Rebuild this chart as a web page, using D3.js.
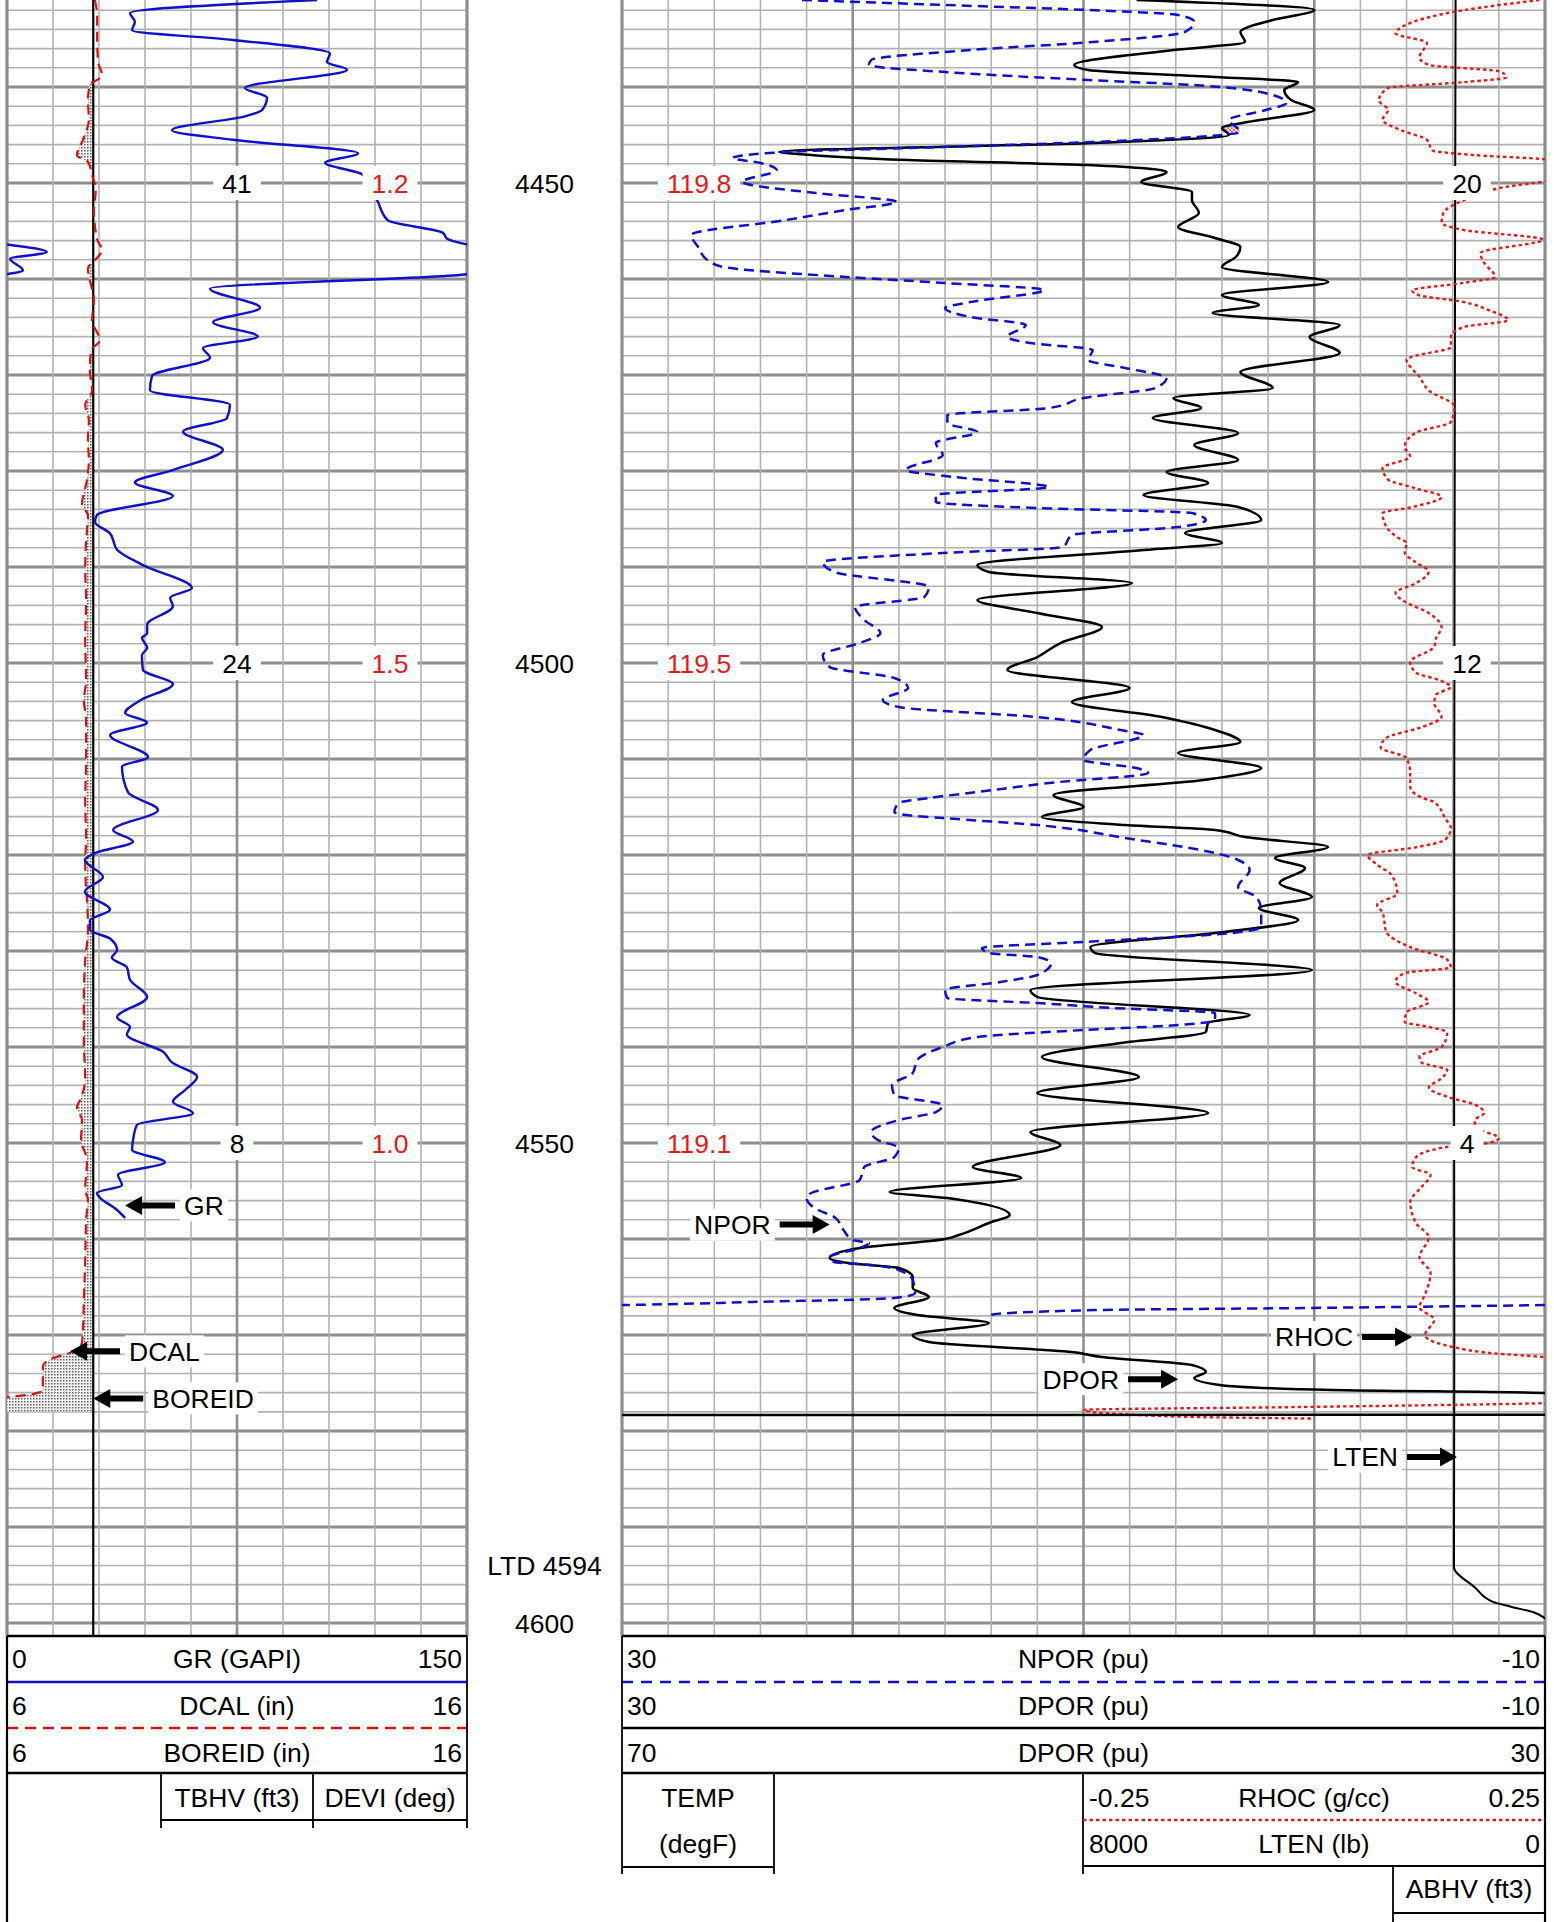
<!DOCTYPE html>
<html>
<head>
<meta charset="utf-8">
<title>Well log</title>
<script src="https://cdn.jsdelivr.net/npm/d3@7/dist/d3.min.js"></script>
<style>
html,body{margin:0;padding:0;background:#fff;}
svg{display:block;}
text{font-family:"Liberation Sans",Arial,Helvetica,sans-serif;}
</style>
</head>
<body>
<svg id="chart" width="1554" height="1922"></svg>
<script>
// ================= DATA =================
const depthRange = [4430.94, 4601.35];
const gridStep = 2;
const depthLabels = [4450, 4500, 4550, 4600];
const ltdDepth = 4594;
const annoDepths = [4450, 4500, 4550];
const tbhvLabels = ["41", "24", "8"];
const deviLabels = ["1.2", "1.5", "1.0"];
const tempLabels = ["119.8", "119.5", "119.1"];
const abhvLabels = ["20", "12", "4"];
const boreid = 7.875;

// [depth ft, GR gAPI]
const grData = [
[4430.94,101.1],[4432.3,40.1],[4433.2,41.7],[4434.1,40.8],[4435.1,73.7],[4436.5,105.3],[4437.4,104.3],[4438.2,110.9],[4440.1,77.6],[4441.1,84.8],[4442.4,83.2],[4443.0,78.3],[4444.5,53.8],[4445.5,73.7],[4446.9,114.5],[4447.9,103.7],[4449.1,115.8],[4451.8,120.7],[4453.9,124.2],[4455.2,142.2],[4455.8,143.5],[4456.4,150.0],[4457.2,163.0],[4457.9,151.0],[4459.1,155.2],[4459.5,150.0],[4461.0,66.2],[4463.0,82.5],[4464.5,67.2],[4466.0,81.8],[4467.2,63.9],[4468.2,66.2],[4470.1,47.3],[4471.6,46.6],[4473.1,72.7],[4474.5,71.7],[4475.9,57.4],[4477.8,70.4],[4479.9,54.1],[4481.2,41.7],[4482.6,54.1],[4484.6,29.3],[4485.3,28.7],[4486.5,33.6],[4488.2,35.9],[4489.8,44.3],[4492.2,60.3],[4493.2,53.2],[4494.1,54.1],[4496.0,45.7],[4496.9,45.7],[4497.4,44.0],[4498.4,45.7],[4499.2,44.0],[4500.7,44.3],[4502.2,54.1],[4503.9,43.4],[4505.2,38.5],[4506.2,45.7],[4507.5,33.6],[4509.8,46.0],[4510.8,37.5],[4513.5,39.5],[4515.3,49.2],[4517.4,34.6],[4518.6,41.1],[4519.8,28.7],[4520.5,25.4],[4522.3,31.3],[4523.8,25.4],[4525.7,33.6],[4526.8,27.1],[4527.8,27.1],[4528.7,33.6],[4529.9,35.9],[4530.7,34.2],[4531.7,39.1],[4533.0,40.1],[4534.8,45.7],[4536.9,35.9],[4537.9,40.1],[4538.7,39.1],[4540.5,50.9],[4541.6,53.8],[4543.1,62.0],[4544.5,58.0],[4545.7,54.1],[4546.9,60.7],[4548.1,42.4],[4549.7,41.1],[4550.7,40.8],[4552.0,51.5],[4553.3,36.2],[4554.4,37.5],[4555.2,29.3],[4555.7,30.3],[4556.8,35.2],[4557.8,38.5]
];

// [depth ft, DCAL in]
const dcalData = [
[4430.94,7.91],[4432.5,7.96],[4435.1,7.96],[4437.4,7.98],[4438.8,8.07],[4439.8,7.80],[4441.4,7.76],[4443.4,7.78],[4445.5,7.65],[4447.1,7.52],[4447.8,7.76],[4449.2,7.85],[4450.7,7.93],[4452.8,7.89],[4455.9,7.96],[4457.0,8.07],[4457.8,7.96],[4458.9,7.76],[4460.1,7.80],[4462.2,7.89],[4464.3,7.85],[4466.4,8.02],[4467.4,7.83],[4469.5,7.80],[4471.6,7.85],[4473.1,7.70],[4474.7,7.78],[4476.8,7.76],[4478.9,7.78],[4480.9,7.74],[4483.5,7.63],[4484.6,7.76],[4487.2,7.72],[4490.3,7.70],[4493.4,7.72],[4497.6,7.70],[4501.8,7.72],[4503.9,7.67],[4505.9,7.72],[4510.1,7.72],[4514.3,7.70],[4518.4,7.72],[4520.5,7.70],[4523.6,7.72],[4524.7,7.74],[4527.8,7.76],[4530.9,7.70],[4535.1,7.67],[4539.3,7.67],[4543.4,7.70],[4545.5,7.59],[4546.3,7.52],[4547.6,7.63],[4549.7,7.61],[4551.8,7.74],[4554.9,7.70],[4555.9,7.76],[4558.0,7.72],[4562.2,7.70],[4566.4,7.67],[4569.5,7.65],[4570.8,7.63],[4571.8,7.41],[4572.4,7.0],[4573.3,6.78],[4575.7,6.78],[4576.2,6.5],[4576.5,6.0],[4578.0,5.6]
];

// [depth ft, NPOR pu]
const nporData = [
[4430.94,22.2],[4431.46,16.0],[4431.98,9.8],[4432.50,5.9],[4433.23,5.2],[4434.27,5.6],[4435.32,9.6],[4436.15,14.9],[4437.19,19.2],[4437.71,19.3],[4438.44,16.0],[4439.27,9.8],[4439.79,5.3],[4440.84,1.8],[4441.67,1.2],[4442.40,2.1],[4443.44,3.7],[4444.69,3.2],[4445.00,4.0],[4445.73,9.6],[4446.36,17.6],[4446.77,22.9],[4447.40,25.2],[4447.92,24.0],[4448.65,23.3],[4449.90,24.8],[4450.21,24.4],[4451.04,21.6],[4451.98,18.1],[4452.81,20.3],[4453.86,22.9],[4455.42,27.0],[4456.67,26.7],[4458.02,26.3],[4458.75,25.6],[4459.79,20.3],[4460.42,16.0],[4461.15,11.7],[4462.40,14.9],[4463.02,16.0],[4463.96,14.9],[4464.79,12.5],[4466.04,13.3],[4466.67,12.3],[4467.40,9.6],[4468.44,9.8],[4469.27,8.2],[4470.31,6.4],[4471.36,6.9],[4472.40,10.0],[4473.44,11.5],[4474.17,15.9],[4475.00,15.9],[4475.94,14.6],[4477.09,16.4],[4478.34,16.1],[4479.90,17.7],[4480.63,15.6],[4481.67,11.5],[4482.50,16.4],[4483.23,16.4],[4483.86,12.0],[4484.38,5.3],[4485.11,4.7],[4485.84,5.9],[4486.67,10.5],[4487.92,10.9],[4488.54,16.1],[4489.48,21.3],[4490.52,20.8],[4492.08,16.7],[4493.13,16.9],[4494.17,19.9],[4495.52,19.5],[4496.88,18.8],[4497.92,19.7],[4499.17,21.3],[4500.42,21.0],[4501.56,18.2],[4502.61,17.6],[4503.86,18.7],[4504.59,18.0],[4505.63,12.0],[4506.98,8.4],[4507.50,7.4],[4509.06,9.7],[4510.11,10.0],[4510.94,7.7],[4511.46,7.2],[4512.50,11.5],[4513.44,14.6],[4514.06,16.7],[4514.59,18.0],[4515.52,18.2],[4515.84,17.7],[4516.15,16.1],[4516.88,12.0],[4518.23,8.2],[4519.79,4.3],[4520.52,3.3],[4521.56,2.8],[4523.34,3.3],[4524.38,2.5],[4525.73,2.3],[4527.50,2.3],[4528.13,3.6],[4529.06,10.0],[4529.69,14.4],[4530.21,14.1],[4530.63,12.0],[4531.25,11.4],[4532.50,12.0],[4533.23,13.6],[4534.06,16.0],[4534.90,15.9],[4535.42,12.0],[4535.94,8.7],[4536.46,4.3],[4537.19,4.3],[4537.71,5.9],[4538.23,10.0],[4538.96,14.6],[4540.00,16.1],[4541.35,17.2],[4542.71,17.4],[4543.96,18.3],[4545.00,18.2],[4546.04,16.1],[4546.77,16.4],[4547.61,18.0],[4548.86,19.2],[4549.69,18.9],[4550.52,18.0],[4551.46,18.2],[4552.50,19.5],[4553.86,19.7],[4555.21,21.8],[4555.73,22.0],[4556.98,21.5],[4557.71,20.8],[4559.06,20.4],[4560.11,20.0],[4560.42,19.3],[4560.94,19.7],[4561.88,21.0],[4562.40,20.8],[4562.71,19.2],[4563.23,18.0],[4564.27,17.4],[4565.63,17.3],[4566.15,18.2],[4566.56,24.4],[4566.88,30.0],[4567.19,40.5],[4567.40,49.5],[4567.92,54.0],[4568.23,54.1]
];

// [depth ft, DPOR pu]
const dporData = [
[4430.94,7.7],[4431.98,0.0],[4433.02,1.8],[4434.27,3.2],[4435.32,3.0],[4436.15,6.1],[4437.71,10.4],[4438.23,9.8],[4438.96,4.3],[4439.48,0.7],[4440.32,1.3],[4441.36,1.0],[4442.40,0.0],[4443.65,2.9],[4444.27,4.0],[4445.00,3.7],[4445.84,9.6],[4446.77,23.2],[4446.98,22.4],[4447.61,17.6],[4448.13,9.8],[4448.86,6.4],[4449.90,7.5],[4450.94,5.3],[4451.77,5.3],[4453.13,5.0],[4454.59,5.9],[4455.73,4.3],[4456.67,3.2],[4457.71,3.4],[4458.75,4.0],[4460.31,-0.6],[4461.67,4.0],[4462.71,2.4],[4463.54,4.4],[4464.79,-1.1],[4466.04,0.2],[4467.71,-1.1],[4469.69,3.2],[4471.36,1.8],[4472.40,6.1],[4473.44,4.9],[4474.48,7.0],[4476.04,3.3],[4477.29,5.2],[4478.86,3.3],[4480.11,6.4],[4481.25,4.6],[4482.50,7.4],[4483.75,3.3],[4485.11,2.3],[4486.46,5.6],[4487.50,4.0],[4488.23,7.4],[4489.79,14.6],[4490.52,14.1],[4491.67,7.9],[4493.44,14.6],[4494.79,12.0],[4496.25,9.2],[4497.92,11.0],[4499.38,12.0],[4500.73,13.3],[4502.61,8.0],[4504.06,10.5],[4505.63,6.6],[4506.98,4.3],[4508.23,3.2],[4509.38,5.9],[4510.94,2.3],[4512.19,4.8],[4513.75,11.3],[4515.00,10.0],[4516.04,11.8],[4516.88,8.2],[4517.40,4.3],[4518.13,3.0],[4519.17,-0.6],[4520.31,1.7],[4521.36,0.4],[4522.92,1.5],[4524.38,0.1],[4525.52,2.4],[4526.77,0.7],[4528.13,4.3],[4529.58,9.7],[4530.21,9.5],[4531.98,0.1],[4534.06,12.3],[4534.79,12.0],[4536.67,2.8],[4537.50,4.6],[4538.44,4.7],[4539.58,8.4],[4541.04,11.8],[4543.13,7.6],[4544.79,12.0],[4546.88,4.6],[4548.86,12.3],[4550.21,11.0],[4552.50,14.8],[4553.65,12.7],[4555.10,18.4],[4555.73,15.9],[4557.50,13.2],[4558.33,14.1],[4559.58,15.4],[4560.00,16.0],[4560.94,19.7],[4561.98,21.0],[4562.50,20.2],[4563.02,18.0],[4563.96,17.4],[4565.10,17.4],[4566.04,16.7],[4567.19,18.2],[4567.92,17.2],[4568.75,14.1],[4570.00,17.4],[4570.73,16.7],[4571.77,10.5],[4572.29,9.2],[4573.13,5.3],[4573.85,4.7],[4574.48,5.2],[4575.21,4.1],[4575.73,-0.8],[4576.04,-10.0],[4577.00,-12.5],[4578.30,-13.5],[4578.40,95.0]
];

// [depth ft, RHOC g/cc]
const rhocData = [
[4430.94,0.247],[4432.0,0.206],[4433.8,0.172],[4434.4,0.169],[4435.4,0.186],[4436.9,0.182],[4437.7,0.187],[4438.4,0.226],[4439.0,0.229],[4439.5,0.206],[4440.1,0.165],[4441.4,0.160],[4442.4,0.165],[4443.4,0.162],[4444.5,0.172],[4445.5,0.186],[4446.6,0.189],[4447.1,0.212],[4447.6,0.252],[4448.6,0.258],[4449.7,0.252],[4450.5,0.226],[4451.8,0.206],[4453.1,0.195],[4454.1,0.194],[4454.9,0.206],[4455.9,0.249],[4457.3,0.215],[4458.3,0.217],[4459.8,0.223],[4460.4,0.206],[4461.2,0.178],[4461.7,0.182],[4462.4,0.206],[4463.2,0.219],[4464.3,0.230],[4465.0,0.206],[4466.0,0.199],[4467.1,0.199],[4468.1,0.178],[4468.4,0.175],[4470.2,0.182],[4471.6,0.187],[4473.3,0.201],[4474.9,0.199],[4476.0,0.180],[4477.5,0.174],[4478.5,0.177],[4479.7,0.162],[4480.9,0.165],[4481.8,0.180],[4482.7,0.194],[4483.8,0.177],[4484.4,0.162],[4485.8,0.164],[4486.9,0.170],[4487.5,0.175],[4488.5,0.174],[4489.5,0.180],[4490.5,0.187],[4491.7,0.180],[4492.7,0.169],[4493.6,0.174],[4494.8,0.187],[4496.3,0.194],[4497.4,0.191],[4498.3,0.190],[4499.9,0.177],[4501.0,0.180],[4501.8,0.193],[4502.5,0.199],[4503.3,0.191],[4504.2,0.190],[4505.6,0.194],[4506.7,0.183],[4507.8,0.164],[4508.8,0.161],[4509.9,0.175],[4511.5,0.177],[4512.9,0.177],[4514.0,0.183],[4514.5,0.190],[4516.2,0.196],[4517.2,0.199],[4518.4,0.196],[4519.2,0.180],[4520.0,0.154],[4521.0,0.159],[4522.1,0.167],[4524.0,0.170],[4525.2,0.159],[4526.0,0.162],[4528.0,0.164],[4529.6,0.177],[4530.9,0.197],[4531.7,0.199],[4532.3,0.174],[4533.2,0.169],[4534.4,0.180],[4535.3,0.187],[4536.4,0.175],[4537.4,0.174],[4537.9,0.187],[4538.5,0.197],[4540.0,0.194],[4541.0,0.182],[4541.6,0.183],[4542.4,0.197],[4543.4,0.193],[4544.2,0.187],[4545.3,0.199],[4546.0,0.212],[4546.9,0.217],[4547.6,0.212],[4548.3,0.212],[4549.5,0.225],[4550.0,0.219],[4550.4,0.197],[4551.5,0.180],[4552.5,0.178],[4553.3,0.188],[4554.6,0.183],[4555.7,0.178],[4556.1,0.177],[4558.3,0.180],[4559.8,0.187],[4561.9,0.182],[4563.5,0.188],[4565.8,0.185],[4567.1,0.182],[4568.4,0.190],[4570.0,0.185],[4571.2,0.199],[4571.9,0.222],[4572.3,0.250],[4573.1,0.300],[4576.6,0.300],[4577.1,0.250],[4577.5,0.117],[4577.8,0.000],[4578.5,0.052],[4578.7,0.125]
];

// [depth ft, LTEN lb]
const ltenData = [
[4430.94,775],[4460,780],[4500,785],[4540,788],[4570,786],[4594.2,789],[4596.3,607],[4597.8,451],[4598.3,295],[4598.9,95],[4599.5,0],[4601.35,-150]
];

// curve name tags: depth, value on the curve's scale, arrow direction
const curveNotes = [
  {name:"GR",     depth:4556.5, value:38.5,  scale:"gr",  dir:"left"},
  {name:"DCAL",   depth:4571.7, value:7.37,  scale:"cal", dir:"left"},
  {name:"BOREID", depth:4576.6, value:7.875, scale:"cal", dir:"left"},
  {name:"NPOR",   depth:4558.5, value:21.0,  scale:"por", dir:"right"},
  {name:"DPOR",   depth:4574.6, value:5.9,   scale:"por", dir:"right"},
  {name:"RHOC",   depth:4570.2, value:0.178, scale:"rho", dir:"right"},
  {name:"LTEN",   depth:4582.7, value:763,   scale:"ten", dir:"right"}
];

// ================= RENDER =================
const svg = d3.select("#chart");
const FS = 26.5;
const BLUE = "#1010c8", RED = "#d81010", LRED = "#e41a1a";
const plotH = 1636;
const T1 = [7, 467], T3 = [622, 1545];
const depthCenter = 544.5;

const y = d3.scaleLinear().domain(depthRange).range([0, plotH]);
const xGR = d3.scaleLinear().domain([0, 150]).range(T1);
const xCAL = d3.scaleLinear().domain([6, 16]).range(T1);
const xPOR = d3.scaleLinear().domain([30, -10]).range(T3);
const xPORb = d3.scaleLinear().domain([70, 30]).range(T3);
const xRHO = d3.scaleLinear().domain([-0.25, 0.25]).range(T3);
const xTEN = d3.scaleLinear().domain([8000, 0]).range(T3);
const scales = {gr:xGR, cal:xCAL, por:xPOR, rho:xRHO, ten:xTEN};

svg.append("rect").attr("width",1554).attr("height",1922).attr("fill","#fff");

const defs = svg.append("defs");
[["clip1",T1],["clip3",T3]].forEach(([id,t]) => {
  defs.append("clipPath").attr("id",id).append("rect")
    .attr("x",t[0]).attr("y",0).attr("width",t[1]-t[0]).attr("height",plotH);
});
const pat = defs.append("pattern").attr("id","stipple").attr("width",3).attr("height",3)
  .attr("patternUnits","userSpaceOnUse");
pat.append("rect").attr("width",3).attr("height",3).attr("fill","#f4f4f4");
pat.append("rect").attr("width",1.5).attr("height",1.5).attr("fill","#606060");
const hatch = defs.append("pattern").attr("id","hatch").attr("width",4).attr("height",4)
  .attr("patternUnits","userSpaceOnUse");
hatch.append("rect").attr("width",4).attr("height",4).attr("fill","#fbe3e3");
hatch.append("path").attr("d","M0,4L4,0M0,0L4,4").attr("stroke","#e06a6a").attr("stroke-width",0.9);

// ---- grid ----
const gridDepths = d3.range(Math.ceil(depthRange[0]/gridStep)*gridStep, depthRange[1], gridStep);
function drawGrid(tr, vlines) {
  const g = svg.append("g");
  g.selectAll(null).data(gridDepths).join("line")
    .attr("x1", tr[0]).attr("x2", tr[1])
    .attr("y1", d => y(d)).attr("y2", d => y(d))
    .attr("stroke", d => d % 10 === 0 ? "#8e8e8e" : "#b2b2b2")
    .attr("stroke-width", d => d % 10 === 0 ? 3 : 1.6);
  g.selectAll(null).data(vlines).join("line")
    .attr("x1", d => d.x).attr("x2", d => d.x)
    .attr("y1", 0).attr("y2", plotH)
    .attr("stroke", d => d.kind === "minor" ? "#b2b2b2" : "#8e8e8e")
    .attr("stroke-width", d => d.kind === "border" ? 3.2 : d.kind === "heavy" ? 2.6 : 1.6);
}
drawGrid(T1, d3.range(0, 151, 15).map(v => ({
  x: xGR(v), kind: (v === 0 || v === 150) ? "border" : (v === 75 ? "heavy" : "minor")})));
drawGrid(T3, d3.range(0, 21).map(i => ({
  x: xPOR(30 - 2*i), kind: (i === 0 || i === 20) ? "border" : (i % 5 === 0 ? "heavy" : "minor")})));

// ---- track 1 curves ----
const g1 = svg.append("g").attr("clip-path","url(#clip1)");
const shade = d3.area().curve(d3.curveMonotoneY)
  .y(d => y(d[0]))
  .x0(d => xCAL(Math.min(d[1], boreid)))
  .x1(() => xCAL(boreid));
g1.append("path").datum(dcalData).attr("d", shade).attr("fill","url(#stipple)").attr("stroke","none");
g1.append("line").attr("x1", xCAL(boreid)).attr("x2", xCAL(boreid))
  .attr("y1", y(depthRange[0])).attr("y2", y(depthRange[1]))
  .attr("stroke","#000").attr("stroke-width",2.2);
const lineOf = (xs) => d3.line().curve(d3.curveMonotoneY).x(d => xs(d[1])).y(d => y(d[0]));
g1.append("path").datum(dcalData).attr("d", lineOf(xCAL))
  .attr("fill","none").attr("stroke",RED).attr("stroke-width",2.2).attr("stroke-dasharray","10,6");
g1.append("path").datum(grData).attr("d", lineOf(xGR))
  .attr("fill","none").attr("stroke",BLUE).attr("stroke-width",2.4);
g1.append("path").datum(grData)
  .attr("d", d3.line().curve(d3.curveMonotoneY).defined(d => d[1] >= 150)
    .x(d => xGR(d[1] - 150)).y(d => y(d[0])))
  .attr("fill","none").attr("stroke",BLUE).attr("stroke-width",2.4);

// ---- track 3 curves ----
const g3 = svg.append("g").attr("clip-path","url(#clip3)");
// crossover fill (NPOR < DPOR), sampled from both curves
function interp(data) {
  const ds = data.map(d => d[0]), vs = data.map(d => d[1]);
  return z => {
    const i = d3.bisectRight(ds, z);
    if (i <= 0 || i >= ds.length) return NaN;
    const t = (z - ds[i-1]) / (ds[i] - ds[i-1]);
    return vs[i-1] + t * (vs[i] - vs[i-1]);
  };
}
const fN = interp(nporData), fD = interp(dporData);
const xover = d3.range(4431, 4566.8, 0.04).map(z => ({z, n: fN(z), d: fD(z)}));
g3.append("path").datum(xover)
  .attr("d", d3.area().defined(p => p.n < p.d).y(p => y(p.z))
    .x0(p => xPOR(p.d)).x1(p => xPOR(p.n)))
  .attr("fill","url(#hatch)").attr("stroke","none");
g3.append("path").datum(ltenData).attr("d", lineOf(xTEN))
  .attr("fill","none").attr("stroke","#000").attr("stroke-width",2);
g3.append("path").datum(rhocData).attr("d", lineOf(xRHO))
  .attr("fill","none").attr("stroke",LRED).attr("stroke-width",2.4).attr("stroke-dasharray","3.5,3");
g3.append("path").datum(dporData).attr("d", lineOf(xPOR))
  .attr("fill","none").attr("stroke","#000").attr("stroke-width",2.5);
g3.append("path").datum(nporData).attr("d", lineOf(xPOR))
  .attr("fill","none").attr("stroke",BLUE).attr("stroke-width",2.5).attr("stroke-dasharray","10,6");
g3.append("path").datum(nporData)
  .attr("d", d3.line().curve(d3.curveMonotoneY).defined(d => d[1] >= 30)
    .x(d => xPORb(d[1])).y(d => y(d[0])))
  .attr("fill","none").attr("stroke",BLUE).attr("stroke-width",2.5).attr("stroke-dasharray","10,6");

// ---- boxed text helper ----
function boxedText(x, yy, str, color, anchor, padX, boxH) {
  const g = svg.append("g");
  const t = g.append("text").attr("x", x).attr("y", yy).attr("dy", "0.36em")
    .attr("text-anchor", anchor).attr("font-size", FS).attr("fill", color).text(str);
  const b = t.node().getBBox();
  g.insert("rect", "text").attr("x", b.x - padX).attr("y", yy - boxH/2)
    .attr("width", b.width + 2*padX).attr("height", boxH).attr("fill", "#fff");
}

// ---- value annotations on grid lines ----
const annoCols = [
  {labels: tbhvLabels, x: 237,  color: "#000"},
  {labels: deviLabels, x: 390,  color: LRED},
  {labels: tempLabels, x: 699,  color: LRED},
  {labels: abhvLabels, x: 1467, color: "#000"}
];
annoCols.forEach(c => c.labels.forEach((s, i) => boxedText(c.x, y(annoDepths[i]), s, c.color, "middle", 9, 34)));

// ---- depth labels ----
depthLabels.forEach(d => {
  svg.append("text").attr("x", depthCenter).attr("y", y(d)).attr("dy","0.36em")
    .attr("text-anchor","middle").attr("font-size",FS).attr("fill","#000").text(d);
});
svg.append("text").attr("x", depthCenter).attr("y", y(ltdDepth)).attr("dy","0.36em")
  .attr("text-anchor","middle").attr("font-size",FS).attr("fill","#000").text("LTD " + ltdDepth);

// ---- curve tags with arrows ----
curveNotes.forEach(n => {
  const tipX = scales[n.scale](n.value), yy = y(n.depth);
  const s = n.dir === "left" ? 1 : -1;
  const shaft = 50, headL = 17, headW = 9.5, th = 6;
  const pts = [[tipX, yy], [tipX + s*headL, yy - headW], [tipX + s*headL, yy - th/2],
    [tipX + s*shaft, yy - th/2], [tipX + s*shaft, yy + th/2], [tipX + s*headL, yy + th/2],
    [tipX + s*headL, yy + headW]];
  const tx = tipX + s*(shaft + 9);
  boxedText(tx, yy, n.name, "#000", n.dir === "left" ? "start" : "end", 4, 32);
  svg.append("path").attr("d", "M" + pts.map(p => p.join(",")).join("L") + "Z").attr("fill","#000");
});

// ---- header ----
const hdr = svg.append("g");
function hline(x1, x2, yy, color, w, dash) {
  const l = hdr.append("line").attr("x1",x1).attr("x2",x2).attr("y1",yy).attr("y2",yy)
    .attr("stroke",color).attr("stroke-width",w);
  if (dash) l.attr("stroke-dasharray", dash);
}
function vline(x, y1, y2, color, w) {
  hdr.append("line").attr("x1",x).attr("x2",x).attr("y1",y1).attr("y2",y2)
    .attr("stroke",color||"#000").attr("stroke-width",w||2);
}
function htext(x, yy, str, anchor) {
  hdr.append("text").attr("x",x).attr("y",yy).attr("text-anchor",anchor)
    .attr("font-size",FS).attr("fill","#000").text(str);
}
const rowsT1 = [
  {l:"0", c:"GR (GAPI)", r:"150", base:1668},
  {l:"6", c:"DCAL (in)", r:"16", base:1715},
  {l:"6", c:"BOREID (in)", r:"16", base:1762}
];
const rowsT3 = [
  {l:"30", c:"NPOR (pu)", r:"-10", base:1668},
  {l:"30", c:"DPOR (pu)", r:"-10", base:1715},
  {l:"70", c:"DPOR (pu)", r:"30", base:1762}
];
hline(T1[0], T1[1], 1636, "#000", 2.4);
hline(T3[0], T3[1], 1636, "#000", 2.4);
rowsT1.forEach(r => { htext(T1[0]+5, r.base, r.l, "start"); htext((T1[0]+T1[1])/2, r.base, r.c, "middle"); htext(T1[1]-5, r.base, r.r, "end"); });
rowsT3.forEach(r => { htext(T3[0]+5, r.base, r.l, "start"); htext((T3[0]+T3[1])/2, r.base, r.c, "middle"); htext(T3[1]-5, r.base, r.r, "end"); });
hline(T1[0], T1[1], 1682, BLUE, 2.6);
hline(T1[0], T1[1], 1728, RED, 2.4, "11,7");
hline(T1[0], T1[1], 1773, "#000", 2.4);
hline(T3[0], T3[1], 1682, BLUE, 2.6, "11,8");
hline(T3[0], T3[1], 1728, "#000", 2.4);
hline(T3[0], T3[1], 1773, "#000", 2.4);
vline(T1[0], 1636, 1922, "#000", 2.2);
vline(T1[1], 1636, 1828, "#000", 1.8);
vline(161, 1773, 1828, "#000", 1.8);
vline(313, 1773, 1828, "#000", 1.8);
hline(161, T1[1], 1820, "#000", 1.8);
htext(237, 1807, "TBHV (ft3)", "middle");
htext(390, 1807, "DEVI (deg)", "middle");
vline(T3[0], 1636, 1874, "#000", 1.8);
vline(T3[1], 1636, 1922, "#000", 2.2);
vline(774, 1773, 1874, "#000", 1.8);
hline(T3[0], 774, 1867, "#000", 1.8);
htext(698, 1807, "TEMP", "middle");
htext(698, 1853, "(degF)", "middle");
vline(1083, 1773, 1874, "#000", 1.8);
htext(1089, 1807, "-0.25", "start");
htext(1314, 1807, "RHOC (g/cc)", "middle");
htext(1540, 1807, "0.25", "end");
hline(1083, T3[1], 1820, LRED, 2.6, "3.5,3");
htext(1089, 1853, "8000", "start");
htext(1314, 1853, "LTEN (lb)", "middle");
htext(1540, 1853, "0", "end");
hline(1083, T3[1], 1866, "#000", 2.2);
vline(1393, 1866, 1922, "#000", 1.8);
htext(1469, 1898, "ABHV (ft3)", "middle");
hline(1393, T3[1], 1913, "#000", 1.8);
</script>
</body>
</html>
